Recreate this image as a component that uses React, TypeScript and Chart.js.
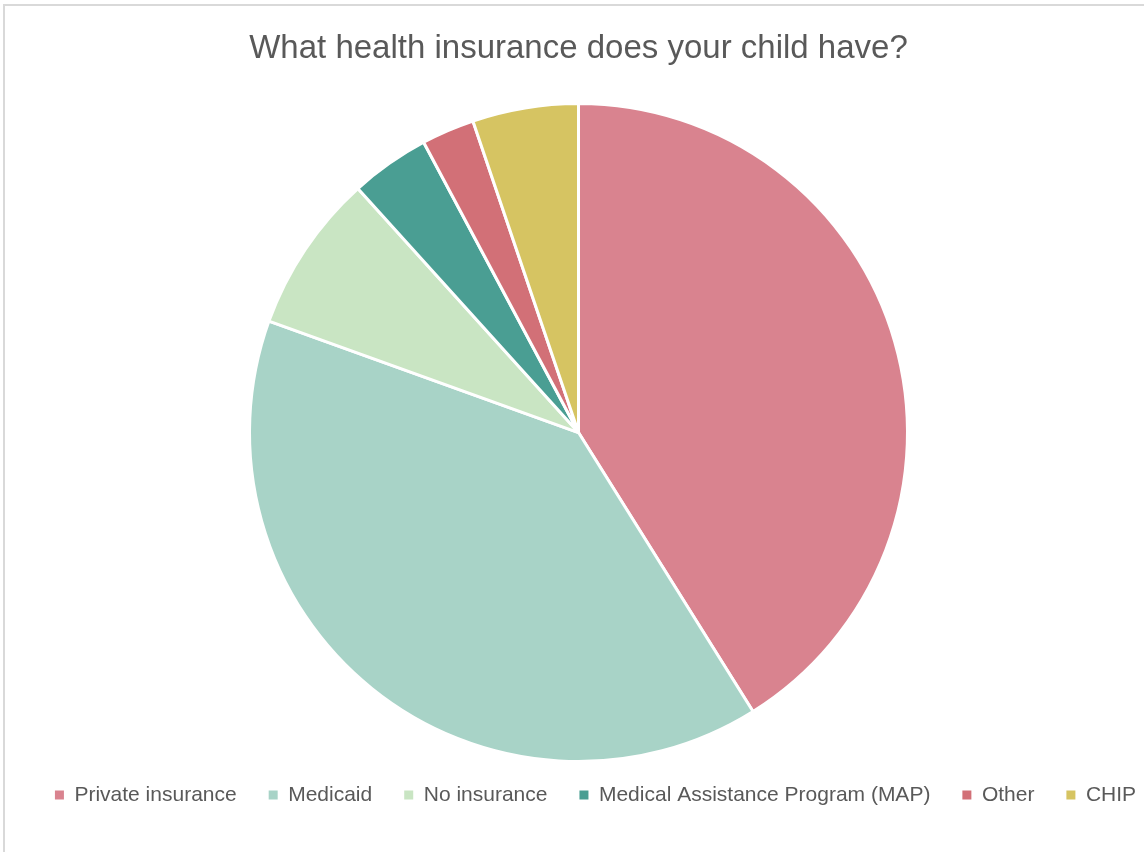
import React, { useEffect, useRef } from "react";
import { Chart, registerables } from "chart.js";

Chart.register(...registerables);

// Survey answers (share of respondents, %)
const categories = [
  "Private insurance",
  "Medicaid",
  "No insurance",
  "Medical Assistance Program (MAP)",
  "Other",
  "CHIP",
];
const shares = [41.1, 39.4, 7.8, 3.9, 2.6, 5.2];
const sliceColors = ["#D9838F", "#A8D3C7", "#C9E5C3", "#4A9E93", "#D27077", "#D6C462"];
const titleText = "What health insurance does your child have?";

const FONT = "'Liberation Sans', Arial, sans-serif";
const TEXT_COLOR = "#595959";

// Keeps the legend on a single row and nudges it right of the pie's centre line.
const legendLayout = {
  id: "legendLayout",
  beforeLayout(chart: any) {
    const lg = chart.legend;
    if (lg && !lg.__wide) {
      const orig = lg.update.bind(lg);
      lg.update = (w: number, h: number, m: any) => orig(w + 80, h, m);
      lg.__wide = true;
    }
  },
  afterLayout(chart: any) {
    const lg = chart.legend;
    if (lg) {
      lg.right += 34;
    }
  },
};

export default function App() {
  const canvasRef = useRef<HTMLCanvasElement | null>(null);

  useEffect(() => {
    if (!canvasRef.current) return;
    const baseLabels = (Chart as any).overrides.doughnut.plugins.legend.labels.generateLabels;
    const chart = new Chart(canvasRef.current, {
      type: "pie",
      data: {
        labels: categories,
        datasets: [
          {
            data: shares,
            backgroundColor: sliceColors,
            borderColor: "#FFFFFF",
            borderWidth: 3,
            clip: false,
          } as any,
        ],
      },
      options: {
        responsive: false,
        animation: false,
        radius: 329,
        layout: { padding: { left: 13, right: 0, top: 0, bottom: 36.5 } },
        plugins: {
          title: {
            display: true,
            text: titleText,
            color: TEXT_COLOR,
            font: { family: FONT, size: 33, weight: "normal", lineHeight: 1.2 },
            padding: { top: 29, bottom: 44 },
          },
          legend: {
            display: true,
            position: "bottom",
            labels: {
              color: TEXT_COLOR,
              font: { family: FONT, size: 21 },
              boxWidth: 9,
              boxHeight: 9,
              padding: 32,
              generateLabels: (chart: any) =>
                baseLabels(chart).map((l: any) => ({ ...l, lineWidth: 0, strokeStyle: l.fillStyle })),
            },
          },
          tooltip: { enabled: false },
        },
      },
      plugins: [legendLayout],
    });
    return () => chart.destroy();
  }, []);

  return (
    <div
      style={{
        position: "fixed",
        left: 0,
        top: 0,
        width: 1144,
        height: 852,
        background: "#FFFFFF",
        overflow: "hidden",
      }}
    >
      <div
        style={{
          position: "absolute",
          left: 3,
          top: 4,
          width: 1200,
          height: 900,
          border: "2px solid #D9D9D9",
          boxSizing: "border-box",
        }}
      />
      <canvas
        ref={canvasRef}
        width={1144}
        height={852}
        style={{ position: "absolute", left: 0, top: 0 }}
      />
    </div>
  );
}
